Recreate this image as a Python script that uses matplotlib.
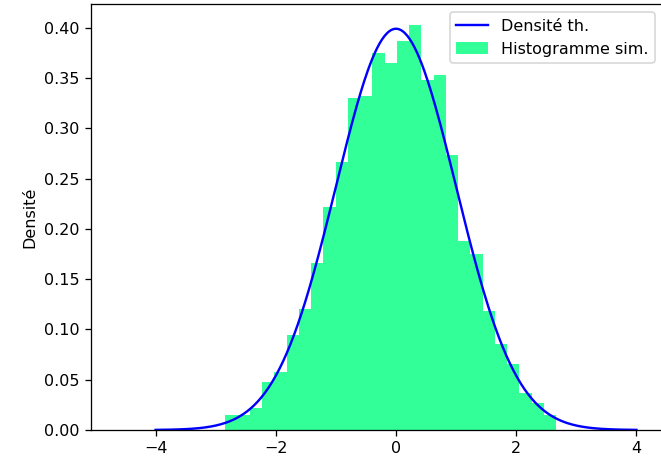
import numpy as np
import matplotlib
matplotlib.use("Agg")
import matplotlib.pyplot as plt

# theoretical density: standard normal on [-4, 4]
mu = 0.0
sigma = 1.0
x_min, x_max = -4.0, 4.0

# simulated histogram (density)
bin_start = -2.837
bin_width = 0.2037
hist_heights = [0.0149, 0.0149, 0.0221, 0.0473, 0.0578, 0.0942, 0.1206, 0.1662,
                0.2220, 0.2669, 0.3297, 0.3320, 0.3746, 0.3650, 0.3870, 0.4031,
                0.3484, 0.3528, 0.2735, 0.1876, 0.1751, 0.1182, 0.0859, 0.0654,
                0.0370, 0.0265, 0.0154]

W, H = 661, 459
DPI = 115
fig = plt.figure(figsize=(W / DPI, H / DPI), dpi=DPI)
# the reference is cropped: the right spine sits just past the image edge
x_left_px, x_right_px = 91, 662.5
ax = fig.add_axes([x_left_px / W, (H - 430) / H, (x_right_px - x_left_px) / W, (430 - 4.3) / H])

xs = np.linspace(x_min, x_max, 400)
pdf = np.exp(-0.5 * ((xs - mu) / sigma) ** 2) / (sigma * np.sqrt(2 * np.pi))
ax.plot(xs, pdf, color='blue', label='Densité th.')

left_edges = bin_start + bin_width * np.arange(len(hist_heights))
ax.bar(left_edges, hist_heights, width=bin_width, align='edge',
       color='springgreen', alpha=0.8, linewidth=0, label='Histogramme sim.')

px_per_unit = 60.1
ax.set_xlim((x_left_px - 396) / px_per_unit, (x_right_px - 396) / px_per_unit)
ax.set_ylabel('Densité')
ax.legend(loc='upper right')

fig.savefig('out.png', dpi=DPI)
